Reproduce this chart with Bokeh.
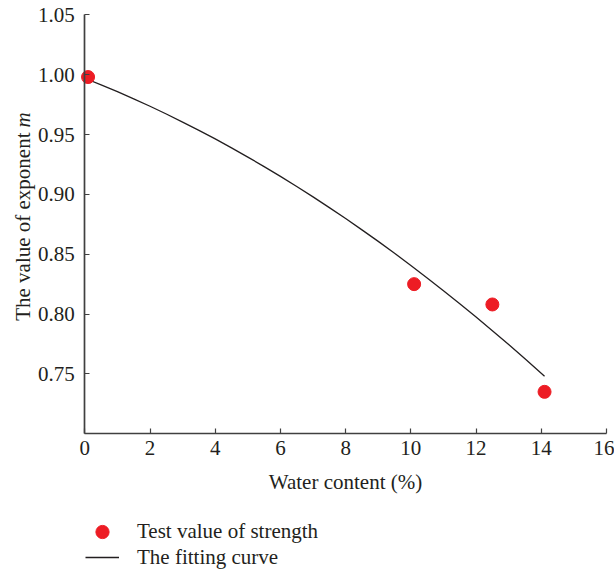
import math
from bokeh.plotting import figure
from bokeh.models import (Range1d, FixedTicker, PrintfTickFormatter, Legend,
                          LegendItem, Label, LinearAxis)
from bokeh.embed import file_html
from bokeh.resources import INLINE

# ---- data ----
water_content = [0.1, 10.1, 12.5, 14.1]
exponent_m = [0.998, 0.825, 0.808, 0.735]

curve_x = [0, 0.5, 1, 1.5, 2, 2.5, 3, 3.5, 4, 4.5, 5, 5.5, 6, 6.5, 7, 7.5,
           8, 8.5, 9, 9.5, 10, 10.5, 11, 11.5, 12, 12.5, 13, 13.5, 14.1]
curve_y = [0.9970, 0.9915, 0.9858, 0.9798, 0.9736, 0.9671, 0.9604, 0.9535,
           0.9463, 0.9388, 0.9311, 0.9232, 0.9150, 0.9066, 0.8979, 0.8889,
           0.8798, 0.8703, 0.8607, 0.8508, 0.8406, 0.8302, 0.8195, 0.8086,
           0.7975, 0.7861, 0.7745, 0.7626, 0.7480]

x_ticks = [0, 2, 4, 6, 8, 10, 12, 14, 16]
y_ticks = [0.75, 0.80, 0.85, 0.90, 0.95, 1.00, 1.05]
x_bounds = (0, 16)
y_bounds = (0.70, 1.05)

FONT = "Liberation Serif"
FS = "21px"
TXT = "#231f20"
RED = "#ed1c24"
AX = "#404040"

W, H = 614, 570
# frame covers the whole canvas; axes are pinned inside it
p = figure(width=W, height=H, min_border=0,
           x_range=Range1d(-2.5854, 16.2455), y_range=Range1d(0.585756, 1.061947),
           x_axis_type=None, y_axis_type=None,
           output_backend="svg", toolbar_location=None,
           background_fill_color="white", border_fill_color="white")
p.outline_line_color = None
p.xgrid.visible = False
p.ygrid.visible = False

xaxis = LinearAxis(fixed_location=0.70, bounds=x_bounds,
                   ticker=FixedTicker(ticks=x_ticks))
yaxis = LinearAxis(fixed_location=0, bounds=y_bounds,
                   ticker=FixedTicker(ticks=y_ticks),
                   formatter=PrintfTickFormatter(format="%.2f"))
for ax in (xaxis, yaxis):
    ax.axis_line_color = AX
    ax.axis_line_width = 1.7
    ax.major_tick_line_color = AX
    ax.major_tick_line_width = 1.2
    ax.major_tick_in = 5
    ax.major_tick_out = 0
    ax.minor_tick_line_color = None
    ax.major_label_text_font = FONT
    ax.major_label_text_font_size = FS
    ax.major_label_text_color = TXT
xaxis.major_label_standoff = 7
yaxis.major_label_standoff = 10
xaxis.axis_label = "Water content (%)"
xaxis.axis_label_text_font = FONT
xaxis.axis_label_text_font_size = FS
xaxis.axis_label_text_font_style = "normal"
xaxis.axis_label_text_color = TXT
xaxis.axis_label_standoff = 12
p.add_layout(xaxis, "below")
p.add_layout(yaxis, "left")

# y axis label with italic m (screen units from canvas bottom-left)
lab1 = Label(x=22, y=H - 132, x_units="screen", y_units="screen",
             text="The value of exponent", angle=math.pi / 2,
             text_align="right", text_baseline="middle",
             text_font=FONT, text_font_size=FS, text_color=TXT)
lab2 = Label(x=22, y=H - 127, x_units="screen", y_units="screen",
             text="m", angle=math.pi / 2,
             text_align="left", text_baseline="middle",
             text_font=FONT, text_font_size=FS, text_font_style="italic",
             text_color=TXT)
p.add_layout(lab1)
p.add_layout(lab2)

line_r = p.line(curve_x, curve_y, line_color=TXT, line_width=1.3)
pts_r = p.scatter(water_content, exponent_m, size=13, fill_color=RED,
                  line_color=RED)

legend_style = dict(orientation="vertical", border_line_color=None,
                    background_fill_alpha=0, padding=0, margin=0, spacing=0,
                    glyph_width=34, label_standoff=18,
                    label_text_font=FONT, label_text_font_size=FS,
                    label_text_color=TXT)
# marker row (taller glyph box so the legend dot matches the plotted dots)
legend_pts = Legend(items=[LegendItem(label="Test value of strength", renderers=[pts_r])],
                    location=(85, H - 547.5), glyph_height=33, label_height=33,
                    **legend_style)
legend_line = Legend(items=[LegendItem(label="The fitting curve", renderers=[line_r])],
                     location=(85, H - 569.5), glyph_height=20, label_height=20,
                     **legend_style)
p.add_layout(legend_pts)
p.add_layout(legend_line)

open("out.html", "w").write(file_html(p, INLINE))
